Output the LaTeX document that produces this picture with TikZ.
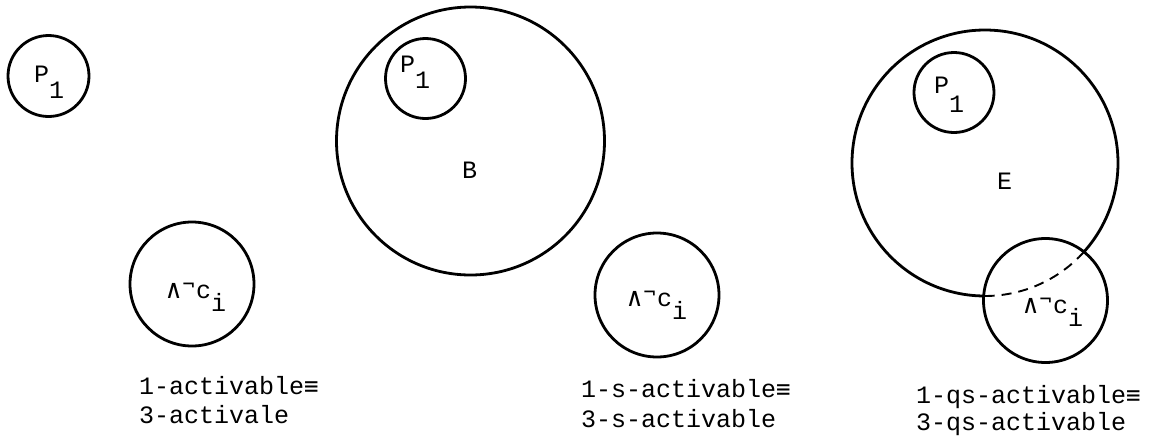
\documentclass[tikz,border=0pt]{standalone}
\usepackage{fontspec}
\newfontfamily\lmono{Liberation Mono}
\newfontfamily\djmono{DejaVu Sans Mono}
\newcommand{\lowone}[1]{\raisebox{-16pt}{#1}}
\newcommand{\notci}{{\djmono\fontsize{26}{26}\selectfont\makebox[15pt]{∧}}{\djmono\makebox[15pt]{\raisebox{7pt}{\fontsize{20}{20}\selectfont ¬}}}c\raisebox{-13pt}{i}}
\newcommand{\eqv}{{\djmono\fontsize{24}{24}\selectfont ≡}}
\tikzset{
  ring/.style={circle, draw, line width=2.8pt, inner sep=0pt},
  txt/.style={font=\lmono\fontsize{25}{25}\selectfont, inner sep=0pt, anchor=base west},
}
\begin{document}
\begin{tikzpicture}[x=1pt,y=-1pt]
\useasboundingbox[fill=white] (0,0) rectangle (1152,440);
% left group
\node[ring, minimum size=81pt] (P1a) at (48.5,76) {};
\node[txt] (P1aL) at (34,82) {P\lowone{1}};
\node[ring, minimum size=124pt] (C1) at (192,284) {};
\node[txt] (C1L) at (166,298) {\notci};
\node[txt] (L1a) at (139,394) {1-activable\eqv};
\node[txt] (L1b) at (139,423) {3-activale};
% middle group
\node[ring, minimum size=268pt] (B) at (470.5,141) {};
\node[ring, minimum size=80pt] (P1b) at (425.5,78.5) {};
\node[txt] (P1bL) at (400,72) {P\lowone{1}};
\node[txt, anchor=base] (BL) at (469.5,178) {B};
\node[ring, minimum size=124pt] (C2) at (657,295) {};
\node[txt] (C2L) at (627,306) {\notci};
\node[txt] (L2a) at (581,397) {1-s-activable\eqv};
\node[txt] (L2b) at (581,427) {3-s-activable};
% right group
\node[circle, minimum size=266pt, inner sep=0pt] (E) at (985,163) {};
\draw[line width=2.8pt] (E.center) ++(90.56:133) arc[start angle=90.56, end angle=401.9, radius=133];
\draw[line width=1.9pt, dash pattern=on 10pt off 7pt] (E.center) ++(41.9:133) arc[start angle=41.9, end angle=90.56, radius=133];
\node[ring, minimum size=80pt] (P1c) at (954,92.5) {};
\node[txt] (P1cL) at (934,93) {P\raisebox{-19pt}{1}};
\node[txt, anchor=base] (EL) at (1004.5,189) {E};
\node[ring, minimum size=124pt] (C3) at (1045.5,300.5) {};
\node[txt] (C3L) at (1023,313) {\notci};
\node[txt] (L3a) at (916,403) {1-qs-activable\eqv};
\node[txt] (L3b) at (916,430) {3-qs-activable};
\end{tikzpicture}
\end{document}
